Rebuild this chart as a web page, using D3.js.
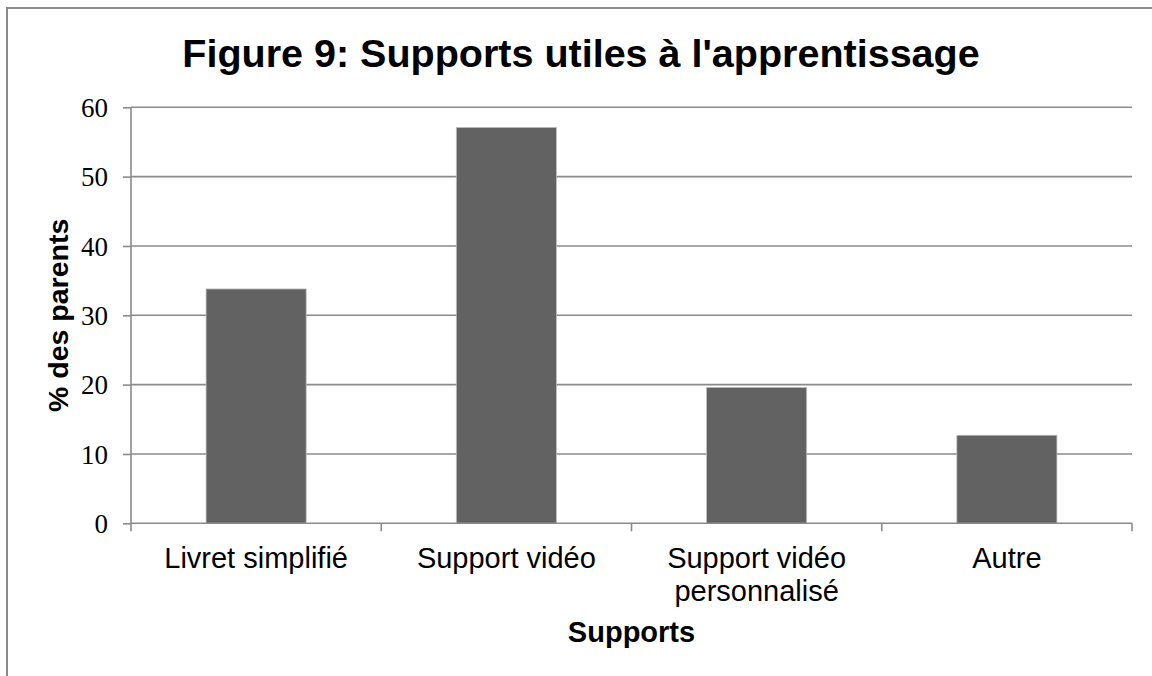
<!DOCTYPE html>
<html><head><meta charset="utf-8">
<script src="https://cdn.jsdelivr.net/npm/d3@7"></script>
<style>body{margin:0;background:#fff}svg{display:block}</style>
</head><body>
<svg id="c" width="1152" height="676"></svg>
<script>
const categories = [["Livret simplifié"], ["Support vidéo"], ["Support vidéo", "personnalisé"], ["Autre"]];
const values = [33.8, 57.1, 19.6, 12.7];
const yTicks = [0, 10, 20, 30, 40, 50, 60];
const title = "Figure 9: Supports utiles à l'apprentissage";
const xTitle = "Supports";
const yTitle = "% des parents";

const svg = d3.select("#c");
const L = 131, R = 1132, T = 107.3, B = 523.3;
const gridColor = "#8a8a8a";

svg.append("rect").attr("x", 7).attr("y", 8).attr("width", 1160).attr("height", 700)
  .attr("fill", "#fff").attr("stroke", "#8a8a8a").attr("stroke-width", 2);

const keys = categories.map((c, i) => i);
const x = d3.scaleBand().domain(keys).range([L, R]).paddingInner(0.6).paddingOuter(0.3);
const y = d3.scaleLinear().domain([0, 60]).range([B, T]);

// gridlines
svg.append("g").selectAll("line").data(yTicks.filter(d => d > 0)).join("line")
  .attr("x1", L).attr("x2", R).attr("y1", d => y(d)).attr("y2", d => y(d))
  .attr("stroke", gridColor).attr("stroke-width", 1.6);

// bars
svg.append("g").selectAll("rect").data(values).join("rect")
  .attr("x", (d, i) => x(i)).attr("width", x.bandwidth())
  .attr("y", d => y(d)).attr("height", d => B - y(d))
  .attr("fill", "#626262").attr("stroke", "#bdbdbd").attr("stroke-width", 0.8);

// y axis
const yAxis = d3.axisLeft(y).tickValues(yTicks).tickSize(8).tickPadding(15).tickFormat(d3.format("d"));
const gy = svg.append("g").attr("transform", `translate(${L},0)`).call(yAxis);
gy.select(".domain").attr("stroke", gridColor).attr("stroke-width", 1.6).attr("d", `M0,${T}V${B}`);
gy.selectAll(".tick line").attr("stroke", gridColor).attr("stroke-width", 1.6);
gy.selectAll(".tick text").attr("font-family", "'Liberation Serif', 'Times New Roman', serif")
  .attr("font-size", 27).attr("fill", "#000").attr("dy", "0.34em");

// x axis: line and boundary ticks
const bounds = keys.map(i => x(i) - x.step() * x.paddingInner() / 2 * 0 - (x.step() - x.bandwidth()) / 2);
bounds.push(R);
svg.append("line").attr("x1", L).attr("x2", R).attr("y1", B).attr("y2", B)
  .attr("stroke", gridColor).attr("stroke-width", 1.6);
svg.append("g").selectAll("line").data(bounds).join("line")
  .attr("x1", d => d).attr("x2", d => d).attr("y1", B).attr("y2", B + 8)
  .attr("stroke", gridColor).attr("stroke-width", 1.6);

// category labels
const lab = svg.append("g").attr("font-family", "'Liberation Sans', Arial, sans-serif")
  .attr("font-size", 29).attr("fill", "#000").attr("text-anchor", "middle");
categories.forEach((lines, i) => {
  lines.forEach((t, j) => {
    lab.append("text").attr("x", x(i) + x.bandwidth() / 2).attr("y", 567.5 + j * 33.5).text(t);
  });
});

// titles
svg.append("text").attr("x", 581).attr("y", 66.7).attr("text-anchor", "middle")
  .attr("font-family", "'Liberation Sans', Arial, sans-serif").attr("font-weight", "bold")
  .attr("font-size", 39.5).text(title);
svg.append("text").attr("x", (L + R) / 2).attr("y", 641.7).attr("text-anchor", "middle")
  .attr("font-family", "'Liberation Sans', Arial, sans-serif").attr("font-weight", "bold")
  .attr("font-size", 29).text(xTitle);
svg.append("text").attr("transform", `translate(68,${(T + B) / 2}) rotate(-90)`).attr("text-anchor", "middle")
  .attr("font-family", "'Liberation Sans', Arial, sans-serif").attr("font-weight", "bold")
  .attr("font-size", 28.5).text(yTitle);
</script>
</body></html>
